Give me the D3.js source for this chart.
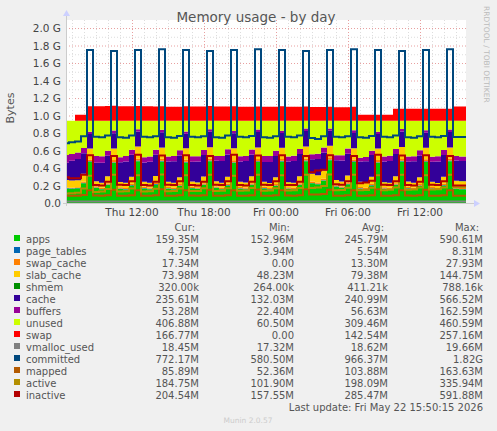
<!DOCTYPE html>
<html><head><meta charset="utf-8">
<script src="https://cdn.jsdelivr.net/npm/d3@7"></script>
<style>body{margin:0;background:#f0f0f0}text{font-family:"DejaVu Sans"}</style>
</head><body>
<svg id="c" width="497" height="431"></svg>
<script>
// samples every 30 min starting Thu 06:30, values in MiB
var ramTotal = 962;
var apps = [170,168,172,230,480,175,160,210,470,165,158,205,490,170,162,215,485,168,160,200,475,172,165,210,490,175,160,205,470,168,162,210,480,170,158,200,485,165,160,210,490,230,220,260,500,190,175,220,480,168,160,205,470,165,160,210,485,170,160,200,480,168,158,205,490,165,160,159];
var pageTables = [5,5,5,6,8,5,5,6,8,5,5,6,8,5,5,6,8,5,5,6,8,5,5,6,8,5,5,6,8,5,5,6,8,5,5,6,8,5,5,6,8,5,5,6,8,5,5,6,8,5,5,6,8,5,5,6,8,5,5,6,8,5,5,6,8,5,5,5];
var swapCache = [5,5,8,12,20,15,14,16,24,14,13,15,22,14,13,16,25,14,13,15,22,14,13,15,24,14,13,15,22,14,13,16,26,14,13,15,22,14,13,15,24,16,15,18,27,14,13,15,22,14,13,15,24,14,13,15,22,14,13,15,24,14,13,15,22,17,17,17];
var slabCache = [90,85,80,95,130,60,58,80,135,62,60,82,140,60,58,78,130,62,60,80,135,60,58,80,130,60,58,82,140,62,60,80,135,60,58,80,130,60,58,82,140,90,85,95,135,60,58,80,130,62,60,80,135,60,58,82,140,62,60,80,135,60,58,80,130,74,74,74];
var shmem = [0.4,0.4,0.4,0.4,0.6,0.4,0.4,0.4,0.6,0.4,0.4,0.4,0.6,0.4,0.4,0.4,0.6,0.4,0.4,0.4,0.6,0.4,0.4,0.4,0.6,0.4,0.4,0.4,0.6,0.4,0.4,0.4,0.6,0.4,0.4,0.4,0.6,0.4,0.4,0.4,0.6,0.4,0.4,0.4,0.6,0.4,0.4,0.4,0.6,0.4,0.4,0.4,0.6,0.4,0.4,0.4,0.6,0.4,0.4,0.4,0.6,0.4,0.4,0.4,0.6,0.3,0.3,0.3];
var cache = [200,230,250,240,170,215,235,240,180,230,250,255,175,225,245,250,180,235,250,255,170,230,245,250,180,240,255,260,175,235,250,255,180,230,245,250,175,240,255,260,180,170,190,210,175,230,245,255,180,235,250,255,170,240,255,260,180,230,250,255,175,235,250,255,180,236,236,236];
var buffers = [90,80,75,60,25,80,75,60,30,60,65,60,28,62,60,58,30,60,62,60,25,65,62,60,30,55,60,60,28,62,60,60,30,70,72,60,25,60,62,60,30,60,62,60,25,60,62,60,30,45,50,50,25,60,62,60,30,62,60,60,28,60,62,60,30,53,53,53];
var swap = [0,0,70,70,170,170,170,172,175,170,170,170,172,170,170,168,170,165,165,165,170,168,168,168,172,168,168,168,170,165,165,165,168,165,165,165,170,165,165,165,168,162,162,162,165,160,160,160,165,70,70,70,72,70,70,140,140,140,140,140,142,140,140,140,140,167,167,167];
var vmalloc = [18,18,18,18,19,18,18,18,19,18,18,18,19,18,18,18,19,18,18,18,19,18,18,18,19,18,18,18,19,18,18,18,19,18,18,18,19,18,18,18,19,18,18,18,19,18,18,18,19,18,18,18,19,18,18,18,19,18,18,18,19,18,18,18,19,18,18,18];
var committed = [700,710,720,780,1790,775,770,790,1780,770,765,790,1790,775,770,780,1800,770,765,785,1790,775,770,780,1780,770,765,790,1790,775,770,785,1800,770,765,780,1790,775,770,790,1780,760,750,780,1790,775,770,780,1800,770,765,785,1790,775,770,790,1780,770,765,780,1790,775,770,785,1800,772,772,772];
var mapped = [85,85,86,95,150,88,86,92,155,85,84,90,150,86,85,92,160,85,84,90,150,88,86,92,155,86,85,92,150,85,84,90,158,86,85,92,150,88,86,92,160,100,100,105,155,86,85,90,150,85,84,92,160,86,85,90,150,88,86,92,155,85,84,90,150,86,86,86];
var active = [110,115,120,170,320,130,135,165,330,135,138,170,325,135,138,168,335,138,140,170,325,140,140,172,330,140,142,172,320,142,145,175,330,142,145,172,325,145,148,175,330,175,180,200,335,150,152,178,330,150,152,178,325,150,155,180,330,155,158,180,325,158,160,182,330,185,185,185];
var inactive = [300,290,290,330,560,210,205,250,550,215,210,255,565,210,205,250,555,215,210,255,560,210,205,250,550,215,210,255,565,210,205,250,555,215,210,255,560,210,210,250,550,360,380,390,560,220,215,255,550,230,240,260,565,215,210,255,555,210,205,250,560,215,210,255,550,205,205,205];
var yTicks = ["0.0","0.2 G","0.4 G","0.6 G","0.8 G","1.0 G","1.2 G","1.4 G","1.6 G","1.8 G","2.0 G"];
var xTickLabels = ["Thu 12:00","Thu 18:00","Fri 00:00","Fri 06:00","Fri 12:00"];

var legendRows = [
  ["apps","#00CC00","159.35M","152.96M","245.79M","590.61M"],
  ["page_tables","#0066B3","4.75M","3.94M","5.54M","8.31M"],
  ["swap_cache","#FF8000","17.34M","0.00","13.30M","27.93M"],
  ["slab_cache","#FFCC00","73.98M","48.23M","79.38M","144.75M"],
  ["shmem","#008F00","320.00k","264.00k","411.21k","788.16k"],
  ["cache","#330099","235.61M","132.03M","240.99M","566.52M"],
  ["buffers","#990099","53.28M","22.40M","56.63M","162.59M"],
  ["unused","#CCFF00","406.88M","60.50M","309.46M","460.59M"],
  ["swap","#FF0000","166.77M","0.00","142.54M","257.16M"],
  ["vmalloc_used","#808080","18.45M","17.32M","18.62M","19.66M"],
  ["committed","#00487D","772.17M","580.50M","966.37M","1.82G"],
  ["mapped","#B35A00","85.89M","52.36M","103.88M","163.63M"],
  ["active","#B38F00","184.75M","101.90M","198.09M","335.94M"],
  ["inactive","#B30000","204.54M","157.55M","285.47M","591.88M"]
];

var svg = d3.select("#c");
var pLeft = 66, pRight = 466, pTop = 28, pBottom = 203;
var t0 = new Date(2026,4,21,6,30);
var times = apps.map(function(d,i){ return new Date(t0.getTime() + i*1800000); });
var x = d3.scaleTime().domain([t0, new Date(2026,4,22,15,50)]).range([pLeft,pRight]);
var y = d3.scaleLinear().domain([0,2048]).range([pBottom,pTop]);

svg.append("rect").attr("x",pLeft).attr("y",pTop-8).attr("width",pRight-pLeft).attr("height",pBottom-pTop+8).attr("fill","#fff");

// grid
var g = svg.append("g");
d3.range(0,2049,102.4).forEach(function(v,i){
  g.append("line").attr("x1",pLeft).attr("x2",pRight).attr("y1",y(v)+0.5).attr("y2",y(v)+0.5)
    .attr("stroke", i%2==0 ? "#e8a0a0" : "#ddd").attr("stroke-dasharray","1,2");
});
x.ticks(d3.timeHour.every(1)).forEach(function(t){
  var major = t.getHours()%6==0;
  g.append("line").attr("x1",x(t)+0.5).attr("x2",x(t)+0.5).attr("y1",pTop-8).attr("y2",pBottom)
    .attr("stroke", major ? "#e8a0a0" : "#ddd").attr("stroke-dasharray","1,2");
});

// stacked areas
var rows = times.map(function(t,i){
  var used = apps[i]+pageTables[i]+swapCache[i]+slabCache[i]+shmem[i]+cache[i]+buffers[i];
  return {t:t, apps:apps[i], page_tables:pageTables[i], swap_cache:swapCache[i], slab_cache:slabCache[i],
    shmem:shmem[i], cache:cache[i], buffers:buffers[i], unused:Math.max(0,ramTotal-used), swap:swap[i]};
});
var keys = ["apps","page_tables","swap_cache","slab_cache","shmem","cache","buffers","unused","swap"];
var colors = {}; legendRows.forEach(function(r){ colors[r[0]] = r[1]; });
var stack = d3.stack().keys(keys)(rows);
var area = d3.area().curve(d3.curveStep).x(function(d){ return x(d.data.t); }).y0(function(d){ return y(d[0]); }).y1(function(d){ return y(d[1]); });
svg.append("clipPath").attr("id","cp").append("rect").attr("x",pLeft).attr("y",pTop-8).attr("width",pRight-pLeft).attr("height",pBottom-pTop+8);
var plot = svg.append("g").attr("clip-path","url(#cp)");
stack.forEach(function(s){ plot.append("path").datum(s).attr("d",area).attr("fill",colors[s.key]); });

var lines = [["vmalloc_used",vmalloc],["committed",committed],["mapped",mapped],["active",active],["inactive",inactive]];
lines.forEach(function(l){
  plot.append("path").datum(l[1]).attr("fill","none").attr("stroke",colors[l[0]]).attr("stroke-width",2)
    .attr("d", d3.line().curve(d3.curveStep).x(function(d,i){ return x(times[i]); }).y(function(d){ return y(d); }));
});

// axes
svg.append("line").attr("x1",pLeft-3).attr("x2",pRight+8).attr("y1",pBottom+0.5).attr("y2",pBottom+0.5).attr("stroke","#ccc");
svg.append("line").attr("x1",pLeft+0.5).attr("x2",pLeft+0.5).attr("y1",pBottom+3).attr("y2",pTop-12).attr("stroke","#ccc");
svg.append("path").attr("d","M"+(pRight+8)+","+(pBottom-3)+"L"+(pRight+14)+","+(pBottom+0.5)+"L"+(pRight+8)+","+(pBottom+4)+"Z").attr("fill","#ccd0ff");
svg.append("path").attr("d","M"+(pLeft-3)+","+(pTop-12)+"L"+(pLeft+0.5)+","+(pTop-18)+"L"+(pLeft+4)+","+(pTop-12)+"Z").attr("fill","#ccd0ff");

yTicks.forEach(function(l,i){
  svg.append("text").attr("x",pLeft-5).attr("y",y(i*204.8)+4).attr("text-anchor","end")
    .attr("font-size",10.5).attr("fill","#444").text(l);
});
var xTicks = [new Date(2026,4,21,12),new Date(2026,4,21,18),new Date(2026,4,22,0),new Date(2026,4,22,6),new Date(2026,4,22,12)];
xTicks.forEach(function(t,i){
  svg.append("text").attr("x",x(t)).attr("y",pBottom+13).attr("text-anchor","middle")
    .attr("font-size",10.5).attr("fill","#444").text(xTickLabels[i]);
});

svg.append("text").attr("x",256).attr("y",22).attr("text-anchor","middle").attr("font-size",13.5).attr("fill","#555").text("Memory usage - by day");
svg.append("text").attr("transform","translate(14,108) rotate(-90)").attr("text-anchor","middle").attr("font-size",11).attr("fill","#555").text("Bytes");
svg.append("text").attr("transform","translate(484,6) rotate(90)").attr("font-size",7.5).attr("fill","#bbb").text("RRDTOOL / TOBI OETIKER");

// legend
var mono = "DejaVu Sans Mono";
var cols = [199,294,388,483];
["Cur:","Min:","Avg:","Max:"].forEach(function(h,i){
  svg.append("text").attr("x",cols[i]-4).attr("y",231).attr("text-anchor","end").attr("font-family",mono).attr("font-size",10).attr("fill","#555").text(h);
});
legendRows.forEach(function(r,j){
  var yy = 243 + j*12;
  svg.append("rect").attr("x",14).attr("y",yy-8).attr("width",6).attr("height",6).attr("fill",r[1]);
  svg.append("text").attr("x",26).attr("y",yy).attr("font-family",mono).attr("font-size",10).attr("fill","#555").text(r[0]);
  for (var k=0;k<4;k++) svg.append("text").attr("x",cols[k]).attr("y",yy).attr("text-anchor","end").attr("font-family",mono).attr("font-size",10).attr("fill","#555").text(r[k+2]);
});
svg.append("text").attr("x",483).attr("y",411).attr("text-anchor","end").attr("font-family",mono).attr("font-size",10).attr("fill","#555").text("Last update: Fri May 22 15:50:15 2026");
svg.append("text").attr("x",248).attr("y",423).attr("text-anchor","middle").attr("font-size",7.5).attr("fill","#ccc").text("Munin 2.0.57");
</script>
</body></html>
